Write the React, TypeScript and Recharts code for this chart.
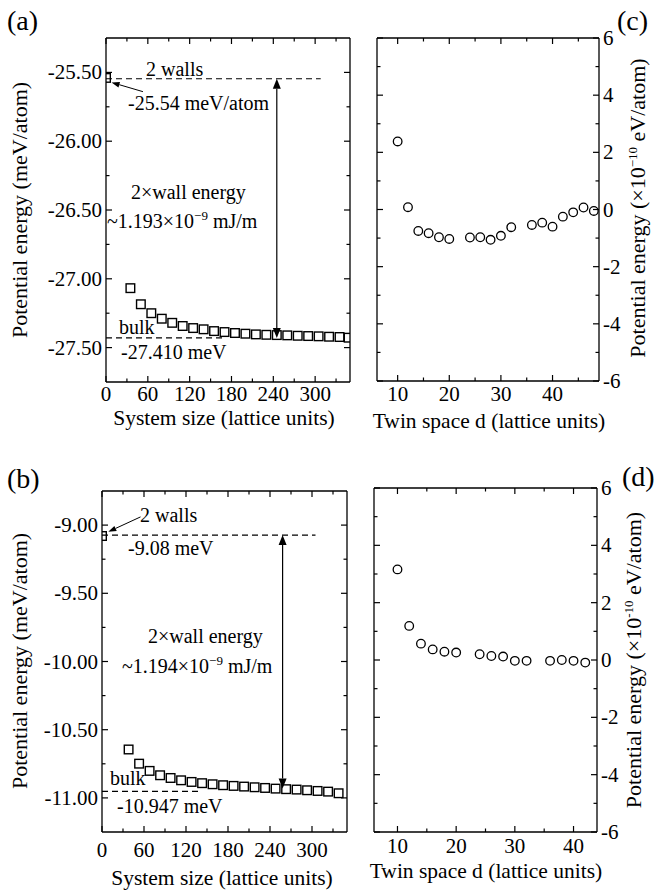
import React from "react";
import { ScatterChart, Scatter, XAxis, YAxis, ReferenceLine } from "recharts";

const FONT = "'Liberation Serif', 'Times New Roman', serif";

// (a) system size vs potential energy, first model
const sizesA = [0, 35, 50, 65, 80, 95, 110, 125, 140, 155, 170, 185, 200, 215, 230, 245, 260, 275, 290, 305, 320, 335, 348];
const energyA = [-25.54, -27.068, -27.185, -27.25, -27.29, -27.32, -27.343, -27.358, -27.367, -27.38, -27.387, -27.394, -27.399, -27.404, -27.407, -27.409, -27.411, -27.414, -27.416, -27.418, -27.421, -27.423, -27.428];

// (b) system size vs potential energy, second model
const sizesB = [0, 38, 53, 68, 83, 98, 113, 128, 143, 158, 173, 188, 203, 218, 233, 248, 263, 278, 293, 308, 323, 338];
const energyB = [-9.08, -10.645, -10.749, -10.802, -10.834, -10.854, -10.871, -10.883, -10.892, -10.9, -10.907, -10.912, -10.917, -10.922, -10.927, -10.932, -10.936, -10.939, -10.944, -10.949, -10.954, -10.966];

// (c) twin spacing vs energy (x1e-10 eV/atom)
const twinC = [10, 12, 14, 16, 18, 20, 24, 26, 28, 30, 32, 36, 38, 40, 42, 44, 46, 48];
const energyC = [2.38, 0.08, -0.75, -0.83, -0.97, -1.03, -0.98, -0.97, -1.06, -0.92, -0.62, -0.54, -0.46, -0.6, -0.25, -0.1, 0.07, -0.05];

// (d)
const twinD = [10, 12, 14, 16, 18, 20, 24, 26, 28, 30, 32, 36, 38, 40, 42];
const energyD = [3.16, 1.19, 0.57, 0.37, 0.29, 0.26, 0.2, 0.14, 0.12, -0.03, -0.03, -0.03, 0.0, -0.03, -0.09];

// reference levels
const wallA = -25.546;
const bulkA = -27.43;
const arrowXA = 245;
const wallB = -9.073;
const bulkB = -10.952;
const arrowXB = 258;

// ticks
const sizeTicks = [0, 30, 60, 90, 120, 150, 180, 210, 240, 270, 300, 330];
const sizeMajors = [0, 60, 120, 180, 240, 300];
const yTicksA = [-27.5, -27.25, -27, -26.75, -26.5, -26.25, -26, -25.75, -25.5];
const yMajorsA = [-27.5, -27, -26.5, -26, -25.5];
const yTicksB = [-11, -10.75, -10.5, -10.25, -10, -9.75, -9.5, -9.25, -9];
const yMajorsB = [-11, -10.5, -10, -9.5, -9];
const twinTicksC = [10, 15, 20, 25, 30, 35, 40, 45];
const twinTicksD = [10, 15, 20, 25, 30, 35, 40];
const twinMajors = [10, 20, 30, 40];
const eTicks = [-6, -5, -4, -3, -2, -1, 0, 1, 2, 3, 4, 5, 6];
const eMajors = [-6, -4, -2, 0, 2, 4, 6];

const near = (v: number, list: number[]) => list.some((m) => Math.abs(m - v) < 1e-6);

type Side = "bottom" | "top" | "left" | "right";

function frameTick(side: Side, majors: number[], labelled: boolean, gap: number, digits = 0) {
  return (props: any) => {
    const { x, y, payload } = props;
    const v = payload.value as number;
    const major = near(v, majors);
    const len = major ? 6 : 3.5;
    let l = { x1: x, y1: y, x2: x, y2: y - len };
    if (side === "top") l = { x1: x, y1: y, x2: x, y2: y + len };
    if (side === "left") l = { x1: x, y1: y, x2: x + len, y2: y };
    if (side === "right") l = { x1: x, y1: y, x2: x - len, y2: y };
    let label = null;
    if (labelled && major) {
      const s = v.toFixed(digits);
      const common = { fontFamily: FONT, fontSize: 21, fill: "#000" };
      if (side === "bottom")
        label = <text {...common} x={x} y={y + gap} textAnchor="middle">{s}</text>;
      if (side === "left")
        label = <text {...common} x={x - gap} y={y + 7} textAnchor="end">{s}</text>;
      if (side === "right")
        label = <text {...common} x={x + gap} y={y + 7} textAnchor="start">{s}</text>;
    }
    return (
      <g>
        <line {...l} stroke="#000" strokeWidth={1.2} />
        {label}
      </g>
    );
  };
}

const squareMark = (p: any) => (
  <rect x={p.cx - 4.3} y={p.cy - 4.3} width={8.6} height={8.6} fill="none" stroke="#000" strokeWidth={1.4} />
);
const circleMark = (p: any) => (
  <circle cx={p.cx} cy={p.cy} r={4.3} fill="none" stroke="#000" strokeWidth={1.3} />
);

const doubleArrow = (p: any) => {
  const { x1, y1, x2, y2 } = p;
  const h = 10;
  const w = 4;
  return (
    <g>
      <line x1={x1} y1={y1 + h} x2={x2} y2={y2 - h} stroke="#000" strokeWidth={1.2} />
      <polygon points={`${x1},${y1} ${x1 - w},${y1 + h} ${x1 + w},${y1 + h}`} fill="#000" />
      <polygon points={`${x2},${y2} ${x2 - w},${y2 - h} ${x2 + w},${y2 - h}`} fill="#000" />
    </g>
  );
};

const pointer = (p: any) => {
  const { x1, y1, x2, y2 } = p;
  const dx = x2 - x1;
  const dy = y2 - y1;
  const L = Math.hypot(dx, dy) || 1;
  const ux = dx / L;
  const uy = dy / L;
  const h = 8;
  const w = 2.8;
  const bx = x2 - ux * h;
  const by = y2 - uy * h;
  return (
    <g>
      <line x1={x1} y1={y1} x2={bx} y2={by} stroke="#000" strokeWidth={1} />
      <polygon points={`${x2},${y2} ${bx - uy * w},${by + ux * w} ${bx + uy * w},${by - ux * w}`} fill="#000" />
    </g>
  );
};

const dashed = { stroke: "#000", strokeWidth: 1.2, strokeDasharray: "6 4" };
const axisLine = { stroke: "#000", strokeWidth: 1.3 };

interface PanelProps {
  left: number;
  top: number;
  width: number;
  height: number;
  // plot-area edges inside the panel box
  margin: { top: number; left: number; right: number; bottom: number };
  xs: number[];
  ys: number[];
  xDomain: [number, number];
  yDomain: [number, number];
  xTicks: number[];
  xMajors: number[];
  yTicks: number[];
  yMajors: number[];
  xGap: number;
  yLabelsRight: boolean;
  yDigits: number;
  mark: (p: any) => React.ReactElement;
  children?: React.ReactNode;
}

function Panel(p: PanelProps) {
  const data = p.xs.map((x, i) => ({ x, y: p.ys[i] }));
  // each axis takes 1px of room, so pull the margins in by 1
  const m = p.margin;
  const margin = { top: m.top - 1, left: m.left - 1, right: m.right - 1, bottom: m.bottom - 1 };
  return (
    <div style={{ position: "absolute", left: p.left, top: p.top }}>
      <ScatterChart width={p.width} height={p.height} margin={margin}>
        <XAxis
          dataKey="x" type="number" domain={p.xDomain} ticks={p.xTicks} interval={0}
          allowDataOverflow height={1} tickSize={0} tickMargin={0} tickLine={false}
          axisLine={axisLine} tick={frameTick("bottom", p.xMajors, true, p.xGap)}
        />
        <XAxis
          xAxisId="top" orientation="top" dataKey="x" type="number" domain={p.xDomain} ticks={p.xTicks}
          interval={0} allowDataOverflow height={1} tickSize={0} tickMargin={0} tickLine={false}
          axisLine={axisLine} tick={frameTick("top", p.xMajors, false, 0)}
        />
        <YAxis
          dataKey="y" type="number" domain={p.yDomain} ticks={p.yTicks} interval={0}
          allowDataOverflow width={1} tickSize={0} tickMargin={0} tickLine={false}
          axisLine={axisLine} tick={frameTick("left", p.yMajors, !p.yLabelsRight, 4, p.yDigits)}
        />
        <YAxis
          yAxisId="right" orientation="right" dataKey="y" type="number" domain={p.yDomain} ticks={p.yTicks}
          interval={0} allowDataOverflow width={1} tickSize={0} tickMargin={0} tickLine={false}
          axisLine={axisLine} tick={frameTick("right", p.yMajors, p.yLabelsRight, 4, p.yDigits)}
        />
        {p.children}
        <Scatter data={data} shape={p.mark} isAnimationActive={false} />
      </ScatterChart>
    </div>
  );
}

function T({ x, y, size = 20, anchor = "start", rotate = false, children }: any) {
  return (
    <text
      x={x} y={y} fontFamily={FONT} fontSize={size} fill="#000" textAnchor={anchor}
      transform={rotate ? `rotate(-90 ${x} ${y})` : undefined}
    >
      {children}
    </text>
  );
}

const Sup = ({ children, size = 13 }: any) => (
  <>
    <tspan dy={-8} fontSize={size}>{children}</tspan>
    <tspan dy={8}> </tspan>
  </>
);

export default function App() {
  return (
    <div style={{ position: "absolute", left: 0, top: 0, width: 664, height: 891, background: "#fff" }}>
      <Panel
        left={0} top={0} width={360} height={445}
        margin={{ top: 38, left: 106, right: 10, bottom: 63 }}
        xs={sizesA} ys={energyA} xDomain={[0, 350]} yDomain={[-27.75, -25.25]}
        xTicks={sizeTicks} xMajors={sizeMajors} yTicks={yTicksA} yMajors={yMajorsA}
        xGap={19} yLabelsRight={false} yDigits={2} mark={squareMark}
      >
        <ReferenceLine segment={[{ x: 0, y: wallA }, { x: 308, y: wallA }]} {...dashed} />
        <ReferenceLine segment={[{ x: 0, y: bulkA }, { x: 170, y: bulkA }]} {...dashed} />
        <ReferenceLine segment={[{ x: arrowXA, y: wallA }, { x: arrowXA, y: bulkA }]} shape={doubleArrow} />
        <ReferenceLine segment={[{ x: 53, y: -25.64 }, { x: 8, y: -25.573 }]} shape={pointer} />
      </Panel>
      <Panel
        left={360} top={0} width={304} height={445}
        margin={{ top: 38, left: 17, right: 65, bottom: 64 }}
        xs={twinC} ys={energyC} xDomain={[6, 49]} yDomain={[-6, 6]}
        xTicks={twinTicksC} xMajors={twinMajors} yTicks={eTicks} yMajors={eMajors}
        xGap={20} yLabelsRight={true} yDigits={0} mark={circleMark}
      />
      <Panel
        left={0} top={445} width={360} height={446}
        margin={{ top: 46, left: 102, right: 13, bottom: 59 }}
        xs={sizesB} ys={energyB} xDomain={[0, 350]} yDomain={[-11.25, -8.75]}
        xTicks={sizeTicks} xMajors={sizeMajors} yTicks={yTicksB} yMajors={yMajorsB}
        xGap={25} yLabelsRight={false} yDigits={2} mark={squareMark}
      >
        <ReferenceLine segment={[{ x: 0, y: wallB }, { x: 305, y: wallB }]} {...dashed} />
        <ReferenceLine segment={[{ x: 0, y: bulkB }, { x: 140, y: bulkB }]} {...dashed} />
        <ReferenceLine segment={[{ x: arrowXB, y: wallB }, { x: arrowXB, y: bulkB + 0.02 }]} shape={doubleArrow} />
        <ReferenceLine segment={[{ x: 55, y: -8.94 }, { x: 9, y: -9.049 }]} shape={pointer} />
      </Panel>
      <Panel
        left={360} top={445} width={304} height={446}
        margin={{ top: 43, left: 14, right: 67, bottom: 59 }}
        xs={twinD} ys={energyD} xDomain={[6, 44]} yDomain={[-6, 6]}
        xTicks={twinTicksD} xMajors={twinMajors} yTicks={eTicks} yMajors={eMajors}
        xGap={21} yLabelsRight={true} yDigits={0} mark={circleMark}
      />

      <svg width={664} height={891} style={{ position: "absolute", left: 0, top: 0, pointerEvents: "none" }}>
        {/* panel letters */}
        <T x={7} y={30} size={28}>(a)</T>
        <T x={617} y={30} size={28}>(c)</T>
        <T x={7} y={488} size={28}>(b)</T>
        <T x={622} y={486} size={28}>(d)</T>

        {/* axis titles */}
        <T x={27} y={210} size={22} anchor="middle" rotate>Potential energy (meV/atom)</T>
        <T x={27} y={661} size={22} anchor="middle" rotate>Potential energy (meV/atom)</T>
        <T x={224} y={425} size={21.5} anchor="middle">System size (lattice units)</T>
        <T x={222} y={885} size={21.5} anchor="middle">System size (lattice units)</T>
        <T x={489} y={428} size={21.5} anchor="middle">Twin space d (lattice units)</T>
        <T x={486} y={878} size={21.5} anchor="middle">Twin space d (lattice units)</T>
        <T x={645} y={208} size={22} anchor="middle" rotate>
          Potential energy (×10<Sup>−10</Sup>eV/atom)
        </T>
        <T x={641} y={660} size={22} anchor="middle" rotate>
          Potential energy (×10<Sup>-10</Sup>eV/atom)
        </T>

        {/* (a) annotations */}
        <T x={146} y={76}>2 walls</T>
        <T x={128} y={110}>-25.54 meV/atom</T>
        <T x={131} y={199}>2×wall energy</T>
        <T x={107} y={228}>~1.193×10<Sup>−9</Sup>mJ/m</T>
        <T x={119} y={334}>bulk</T>
        <T x={121} y={359}>-27.410 meV</T>

        {/* (b) annotations */}
        <T x={140} y={522}>2 walls</T>
        <T x={128} y={555}>-9.08 meV</T>
        <T x={148} y={643}>2×wall energy</T>
        <T x={122} y={673}>~1.194×10<Sup>−9</Sup>mJ/m</T>
        <T x={110} y={785}>bulk</T>
        <T x={117} y={813}>-10.947 meV</T>
      </svg>
    </div>
  );
}
